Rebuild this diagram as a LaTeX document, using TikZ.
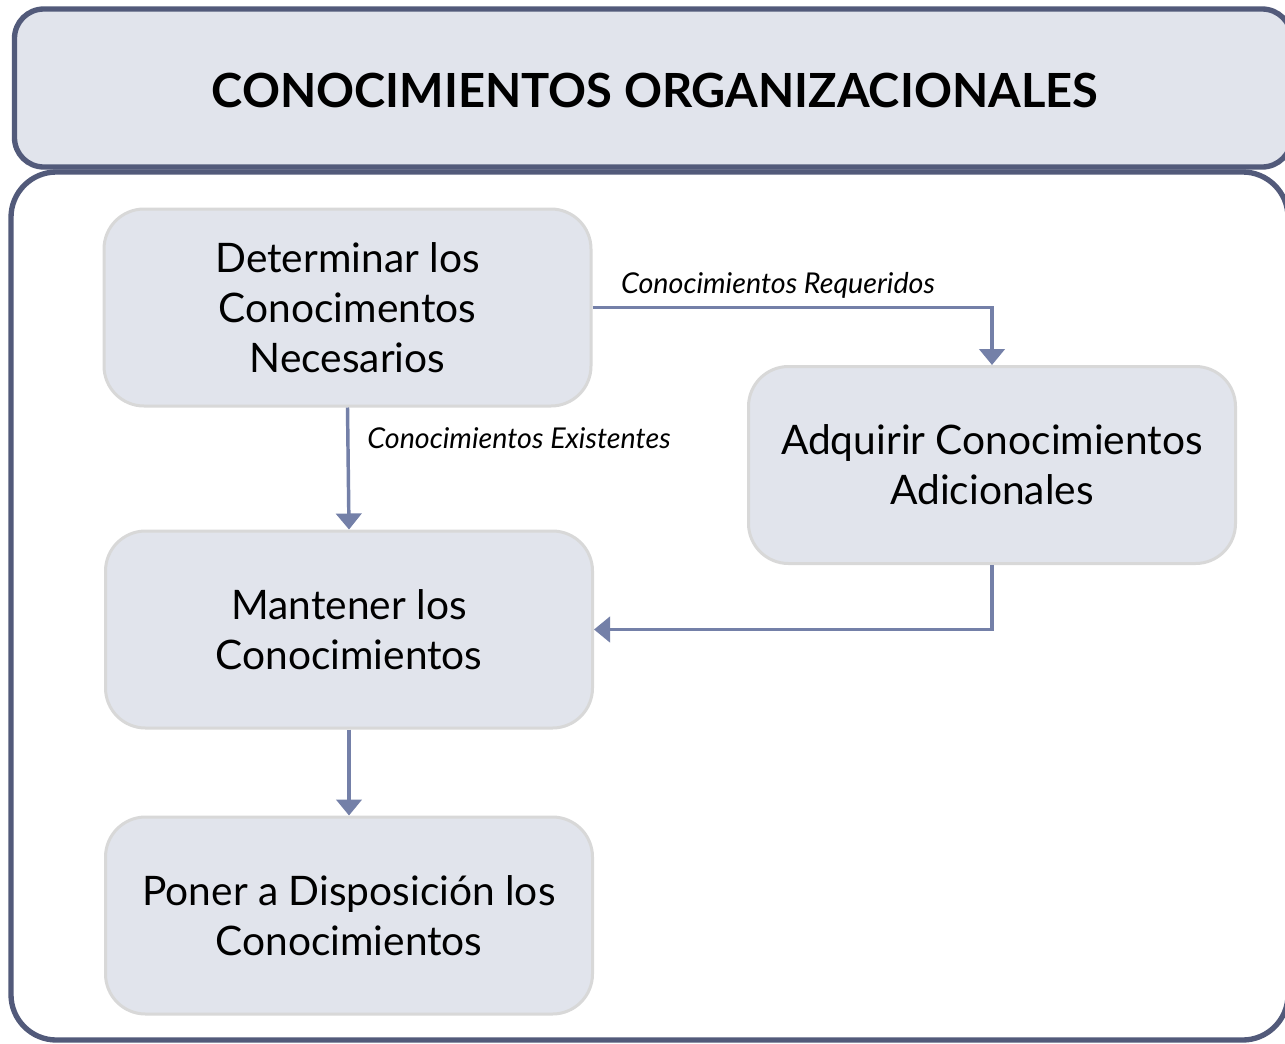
\documentclass[tikz,border=0pt]{standalone}
\usepackage{fontspec}
\setmainfont{Lato}
\usetikzlibrary{arrows.meta}
\definecolor{frame}{HTML}{525A7A}
\definecolor{boxfill}{HTML}{E1E4EC}
\definecolor{boxline}{HTML}{D8D8D8}
\definecolor{arrowc}{HTML}{7480A8}
\begin{document}
\begin{tikzpicture}[x=0.75pt,y=-0.75pt,
  stepbox/.style={draw=boxline,line width=2.25pt,fill=boxfill,rounded corners=30pt,
    minimum width={487*0.75pt},minimum height={197*0.75pt},align=center,
    font=\fontsize{30.5}{37.5}\selectfont,inner sep=0pt},
  conn/.style={draw=arrowc,line width=2.6pt,-{Triangle[width=19pt,length=12pt]}},
  lbl/.style={font=\fontsize{21.5}{25}\selectfont\itshape,inner sep=0pt}]
\useasboundingbox (0,0) rectangle (1285,1043);
\node[draw=frame,line width=4pt,fill=boxfill,rounded corners=22pt,
  minimum width={1277*0.75pt},minimum height={158*0.75pt},inner sep=0pt] (header) at (653,88) {};
\node[font=\fontsize{35.3}{40}\selectfont\bfseries,inner sep=0pt] (title) at (655,90) {CONOCIMIENTOS ORGANIZACIONALES};
\node[draw=frame,line width=4pt,fill=white,rounded corners=34pt,
  minimum width={1277*0.75pt},minimum height={868*0.75pt},inner sep=0pt] (panel) at (649.5,606) {};
\node[stepbox] (b1) at (347.5,307.5) {Determinar los\\Conocimentos\\Necesarios};
\node[stepbox] (b2) at (992,465) {Adquirir Conocimientos\\Adicionales};
\node[stepbox] (b3) at (349,629.5) {Mantener los\\Conocimientos};
\node[stepbox] (b4) at (349,915.5) {Poner a Disposición los\\Conocimientos};
\draw[conn] (b1.east) -- (b1.east -| b2.north) -- (b2.north);
\draw[conn] (b1.south) -- (b3.north);
\draw[conn] (b2.south) -- (b2.south |- b3.east) -- (b3.east);
\draw[conn] (b3.south) -- (b4.north);
\node[lbl] (l1) at (778,285) {Conocimientos Requeridos};
\node[lbl] (l2) at (519,438) {Conocimientos Existentes};
\end{tikzpicture}
\end{document}
